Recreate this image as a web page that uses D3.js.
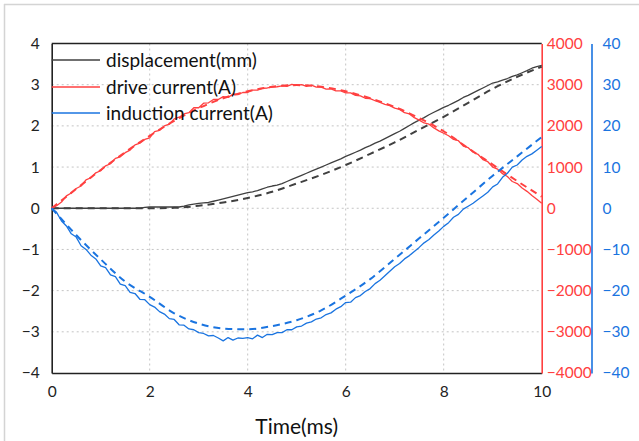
<!DOCTYPE html>
<html>
<head>
<meta charset="utf-8">
<script src="https://cdn.jsdelivr.net/npm/d3@7/dist/d3.min.js"></script>
<style>
  html, body { margin: 0; padding: 0; background: #fff; }
  svg { display: block; font-family: Lato, "Open Sans", sans-serif; }
</style>
</head>
<body>
<svg id="chart" width="639" height="441"></svg>
<script>
// Measured traces, sampled every 0.1 ms
const time = [0,0.1,0.2,0.3,0.4,0.5,0.6,0.7,0.8,0.9,1,1.1,1.2,1.3,1.4,1.5,1.6,1.7,1.8,1.9,2,2.1,2.2,2.3,2.4,2.5,2.6,2.7,2.8,2.9,3,3.1,3.2,3.3,3.4,3.5,3.6,3.7,3.8,3.9,4,4.1,4.2,4.3,4.4,4.5,4.6,4.7,4.8,4.9,5,5.1,5.2,5.3,5.4,5.5,5.6,5.7,5.8,5.9,6,6.1,6.2,6.3,6.4,6.5,6.6,6.7,6.8,6.9,7,7.1,7.2,7.3,7.4,7.5,7.6,7.7,7.8,7.9,8,8.1,8.2,8.3,8.4,8.5,8.6,8.7,8.8,8.9,9,9.1,9.2,9.3,9.4,9.5,9.6,9.7,9.8,9.9,10];

const displacementMeas = [0,0,0,0,0,0,0,0,0,0,0,0,0,0,0,0,0,0,0,0.02,0.03,0.03,0.03,0.03,0.03,0.03,0.03,0.05,0.08,0.1,0.12,0.13,0.14,0.17,0.2,0.23,0.26,0.29,0.32,0.35,0.38,0.4,0.43,0.47,0.51,0.54,0.56,0.6,0.65,0.7,0.75,0.8,0.85,0.9,0.95,1.0,1.05,1.1,1.15,1.2,1.26,1.31,1.36,1.41,1.47,1.52,1.58,1.63,1.69,1.75,1.81,1.87,1.94,2.01,2.08,2.14,2.2,2.27,2.33,2.39,2.45,2.5,2.56,2.62,2.69,2.74,2.8,2.86,2.92,2.98,3.04,3.07,3.11,3.15,3.2,3.24,3.29,3.34,3.4,3.44,3.47];

const driveMeas = [0,60,150,300,370,480,540,690,740,860,910,1030,1080,1210,1250,1350,1410,1540,1580,1670,1710,1860,1890,2000,2040,2170,2210,2290,2320,2440,2440,2550,2560,2640,2640,2710,2690,2770,2760,2810,2810,2870,2870,2910,2920,2940,2950,2970,2960,3010,2990,3000,2960,2990,2940,2940,2890,2900,2850,2850,2800,2800,2740,2730,2670,2660,2610,2570,2520,2490,2430,2400,2320,2290,2200,2140,2070,2040,1950,1880,1820,1760,1670,1640,1510,1470,1360,1310,1180,1130,1000,950,840,770,650,600,490,410,310,220,120];

const inductionMeas = [0,-1.0,-3.1,-4.3,-6.2,-7.0,-9.1,-10.0,-11.4,-12.3,-14.0,-14.4,-16.2,-16.6,-18.4,-18.8,-20.4,-20.7,-22.1,-22.2,-23.4,-24.0,-25.1,-25.7,-26.8,-27.0,-28.3,-28.4,-29.3,-29.5,-30.2,-30.4,-31.0,-30.9,-31.5,-32.2,-31.4,-32.0,-31.5,-31.6,-31.4,-31.7,-30.8,-31.4,-30.6,-30.7,-30.2,-30.2,-29.5,-29.5,-28.8,-28.6,-27.9,-27.6,-26.9,-26.6,-25.8,-25.4,-24.5,-23.9,-22.9,-22.8,-21.7,-21.2,-20.2,-19.5,-18.3,-17.5,-16.4,-15.3,-14.2,-13.4,-12.3,-11.5,-10.5,-9.5,-8.4,-7.6,-6.5,-5.5,-4.4,-3.5,-2.2,-1.5,-0.2,0.5,1.2,2.1,3.0,3.9,5.2,5.9,7.5,8.5,10.0,10.5,11.7,12.6,13.2,14.1,15.0];

// Simulated traces, every 0.5 ms
const simTime = [0,0.5,1,1.5,2,2.5,3,3.5,4,4.5,5,5.5,6,6.5,7,7.5,8,8.5,9,9.5,10];
const displacementSim = [0,0,0,0,0,0.01,0.06,0.14,0.25,0.4,0.6,0.81,1.05,1.32,1.6,1.91,2.22,2.56,2.9,3.19,3.44];
const driveSim = [0,470,930,1360,1760,2120,2430,2670,2840,2950,2990,2950,2840,2670,2460,2190,1870,1460,1060,660,280];
const inductionSim = [0,-6.5,-12.4,-17.8,-21.5,-25.5,-28.0,-29.2,-29.4,-28.6,-27.2,-24.8,-21.2,-17.2,-12.3,-7.3,-2.3,2.8,7.9,12.6,17.3];

// Axis ticks
const xTicks = [0,2,4,6,8,10];
const leftTicks = [-4,-3,-2,-1,0,1,2,3,4];
const redTicks = [-4000,-3000,-2000,-1000,0,1000,2000,3000,4000];
const blueTicks = [-40,-30,-20,-10,0,10,20,30,40];

const seriesNames = ["displacement(mm)", "drive current(A)", "induction current(A)"];

const colGray = "#404040", colRed = "#ff4040", colBlue = "#1a74e0";

const svg = d3.select("#chart");
const plot = { left: 51.7, right: 541.7, top: 43.5, bottom: 373 };
const blueAxisX = 591.5;

// Outer frame (top and left edges)
svg.append("line").attr("x1", 4).attr("x2", 639).attr("y1", 4.5).attr("y2", 4.5)
  .attr("stroke", "#d4d4d4").attr("stroke-width", 1.5);
svg.append("line").attr("x1", 4.5).attr("x2", 4.5).attr("y1", 4).attr("y2", 441)
  .attr("stroke", "#d4d4d4").attr("stroke-width", 1.5);

const x = d3.scaleLinear().domain([0, 10]).range([plot.left, plot.right]);
const yL = d3.scaleLinear().domain([-4, 4]).range([plot.bottom, plot.top]);
const yR = d3.scaleLinear().domain([-4000, 4000]).range([plot.bottom, plot.top]);
const yB = d3.scaleLinear().domain([-40, 40]).range([plot.bottom, plot.top]);

// Grid
const grid = svg.append("g").attr("stroke", "#c4c4c4").attr("stroke-width", 1).attr("stroke-dasharray", "2,3");
grid.selectAll("line.v").data(xTicks.filter(d => d > 0 && d < 10)).join("line")
  .attr("x1", d => x(d)).attr("x2", d => x(d)).attr("y1", plot.top).attr("y2", plot.bottom);
grid.selectAll("line.h").data(leftTicks.filter(d => d > -4 && d < 4)).join("line")
  .attr("x1", plot.left).attr("x2", plot.right).attr("y1", d => yL(d)).attr("y2", d => yL(d));

// Axes
const fs = 15.5;
const axBottom = svg.append("g").attr("transform", `translate(0,${plot.bottom})`)
  .call(d3.axisBottom(x).tickValues(xTicks).tickSize(0).tickPadding(13).tickFormat(d3.format("d")));
axBottom.select(".domain").attr("stroke", "#222").attr("stroke-width", 1.6);
axBottom.selectAll("text").attr("font-size", fs).attr("fill", "#222").attr("font-family", "Lato, sans-serif");

const axLeft = svg.append("g").attr("transform", `translate(${plot.left},0)`)
  .call(d3.axisLeft(yL).tickValues(leftTicks).tickSize(0).tickPadding(12).tickFormat(d3.format("d")));
axLeft.select(".domain").attr("stroke", "#222").attr("stroke-width", 1.6);
axLeft.selectAll("text").attr("font-size", fs).attr("fill", "#222").attr("font-family", "Lato, sans-serif");

// Top border
svg.append("line").attr("x1", plot.left).attr("x2", plot.right).attr("y1", plot.top).attr("y2", plot.top)
  .attr("stroke", "#222").attr("stroke-width", 1.4);

const axRed = svg.append("g").attr("transform", `translate(${plot.right},0)`)
  .call(d3.axisRight(yR).tickValues(redTicks).tickSize(0).tickPadding(5).tickFormat(d3.format("d")));
axRed.select(".domain").attr("stroke", colRed).attr("stroke-width", 1.6);
axRed.selectAll("text").attr("font-size", fs).attr("fill", colRed).attr("font-family", "Lato, sans-serif");

const axBlue = svg.append("g").attr("transform", `translate(${blueAxisX},0)`)
  .call(d3.axisRight(yB).tickValues(blueTicks).tickSize(0).tickPadding(11).tickFormat(d3.format("d")));
axBlue.select(".domain").attr("stroke", colBlue).attr("stroke-width", 1.6);
axBlue.selectAll("text").attr("font-size", fs).attr("fill", colBlue).attr("font-family", "Lato, sans-serif");

// Axis title
svg.append("text").attr("x", x(5)).attr("y", 434).attr("text-anchor", "middle")
  .attr("font-size", 21).attr("fill", "#111").attr("font-family", "Lato, sans-serif").text("Time(ms)");

// Traces
const gLines = svg.append("g").attr("fill", "none");
function measLine(vals, yScale) {
  return d3.line().x((d, i) => x(time[i])).y(d => yScale(d))(vals);
}
function simLine(vals, yScale) {
  return d3.line().curve(d3.curveMonotoneX).x((d, i) => x(simTime[i])).y(d => yScale(d))(vals);
}
const traces = [
  { meas: displacementMeas, sim: displacementSim, y: yL, c: colGray },
  { meas: driveMeas, sim: driveSim, y: yR, c: colRed },
  { meas: inductionMeas, sim: inductionSim, y: yB, c: colBlue }
];
traces.forEach(s => {
  gLines.append("path").attr("d", simLine(s.sim, s.y)).attr("stroke", s.c)
    .attr("stroke-width", 2).attr("stroke-dasharray", "7,5");
  gLines.append("path").attr("d", measLine(s.meas, s.y)).attr("stroke", s.c)
    .attr("stroke-width", 1.3).attr("stroke-linejoin", "round");
});

// Legend
const legend = svg.append("g");
const legendRows = [60, 87, 113];
seriesNames.forEach((name, i) => {
  legend.append("line").attr("x1", plot.left).attr("x2", 100)
    .attr("y1", legendRows[i]).attr("y2", legendRows[i])
    .attr("stroke", traces[i].c).attr("stroke-width", 1.4);
  legend.append("text").attr("x", 106).attr("y", legendRows[i]).attr("dy", "0.35em")
    .attr("font-size", 19).attr("fill", "#111").attr("font-family", "Lato, sans-serif").text(name);
});
</script>
</body>
</html>
